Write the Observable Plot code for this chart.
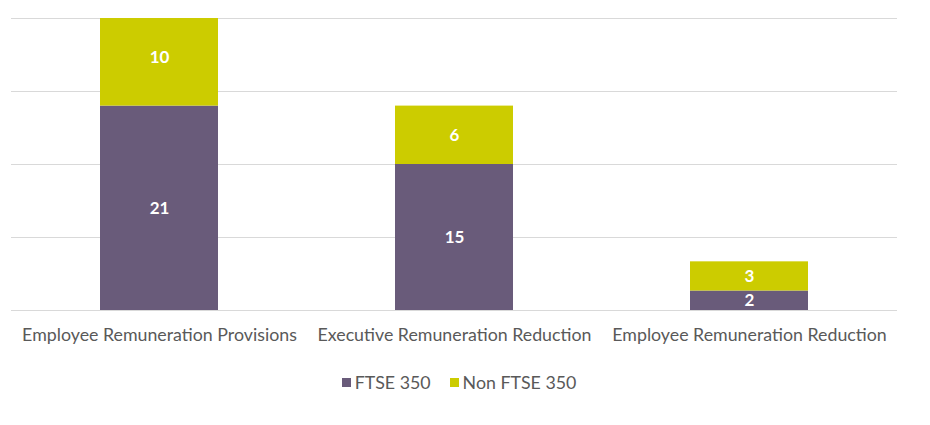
<!DOCTYPE html>
<html>
<head>
<meta charset="utf-8">
<script src="https://cdn.jsdelivr.net/npm/d3@7"></script>
<script src="https://cdn.jsdelivr.net/npm/@observablehq/plot@0.6"></script>
<style>
  body { margin: 0; background: #fff; font-family: Lato, "Open Sans", sans-serif; }
  #chart svg { display: block; }
  .legend { display: flex; justify-content: center; gap: 19px; margin-top: 21px; margin-left: -12px; font-size: 17.8px; color: #595959; }
  .legend span.sw { display: inline-block; width: 9px; height: 9px; margin-right: 4px; vertical-align: 2px; }
</style>
</head>
<body>
<div id="chart"></div>
<div class="legend" id="legend"></div>
<script>
const categories = ["Employee Remuneration Provisions", "Executive Remuneration Reduction", "Employee Remuneration Reduction"];
const series = ["FTSE 350", "Non FTSE 350"];
const ftse350 = [21, 15, 2];
const nonFtse350 = [10, 6, 3];
const gridTicks = [0, 7.5, 15, 22.5, 30];
const colors = ["#695b7a", "#cccc00"];

const data = [];
categories.forEach((c, i) => {
  data.push({category: c, series: series[0], value: ftse350[i]});
  data.push({category: c, series: series[1], value: nonFtse350[i]});
});

const chart = Plot.plot({
  width: 930,
  height: 350,
  marginLeft: 11,
  marginRight: 33,
  marginTop: 18,
  marginBottom: 40,
  style: {fontFamily: "Lato, 'Open Sans', sans-serif", fontSize: "18px", background: "#fff"},
  x: {domain: categories, paddingInner: 0.6, paddingOuter: 0.3, label: null, axis: null},
  y: {domain: [0, 30], label: null, axis: null},
  color: {domain: series, range: colors},
  marks: [
    Plot.ruleY(gridTicks, {stroke: "#d9d9d9", strokeWidth: 1}),
    Plot.barY(data, {x: "category", y: "value", fill: "series", clip: true, order: series}),
    Plot.text(data, Plot.stackY({x: "category", y: "value", z: "series", order: series, text: d => String(d.value), fill: "white", fontWeight: "bold", fontSize: 17})),
    Plot.axisX({tickSize: 0, tickPadding: 18, fontSize: 17.8, color: "#595959", label: null}),
  ]
});
document.getElementById("chart").appendChild(chart);

const legend = document.getElementById("legend");
series.forEach((s, i) => {
  const item = document.createElement("div");
  item.innerHTML = `<span class="sw" style="background:${colors[i]}"></span>${s}`;
  legend.appendChild(item);
});
</script>
</body>
</html>
